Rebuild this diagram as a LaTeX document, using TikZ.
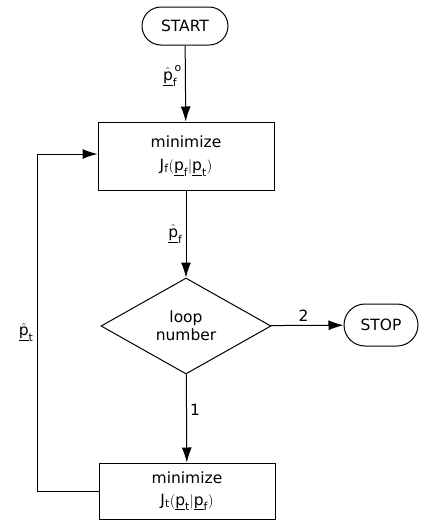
\documentclass[tikz,border=0pt]{standalone}
\usepackage{fontspec}
\setmainfont{DejaVu Sans}
\usetikzlibrary{shapes.geometric,arrows.meta}
\newcommand{\uvec}[1]{\underline{\mathrm{#1}}}
\newcommand{\hvec}[1]{\hat{\underline{\mathrm{#1}}}}
\begin{document}
\begin{tikzpicture}[x=1pt,y=-1pt,
  every node/.style={font=\fontsize{15.5}{18}\selectfont},
  term/.style={draw,line width=1pt,rounded corners=19pt,minimum width=86pt,minimum height=38pt,inner sep=0pt},
  procbox/.style={draw,line width=1pt,minimum width=176pt,inner sep=0pt,align=center},
  decision/.style={draw,line width=1pt,diamond,minimum width=170pt,minimum height=96pt,inner sep=0pt,align=center},
  flow/.style={line width=1pt,-{Latex[length=15pt,width=10pt]}},
  lbl/.style={inner sep=3pt}]
\useasboundingbox (0,0) rectangle (426,531);
\node[term] (start) at (185,26) {START};
\node[procbox,minimum height=68pt] (box1) at (186,156) {minimize\\[5pt]$\mathrm{J}_{\mathrm{f}}(\uvec{p}_{\mathrm{f}}|\uvec{p}_{\mathrm{t}})$};
\node[decision] (dia) at (186,326) {loop\\number};
\node[term,minimum width=74pt,minimum height=42pt,rounded corners=21pt] (stop) at (381,325) {STOP};
\node[procbox,minimum height=56pt] (box2) at (187,491) {minimize\\[4pt]$\mathrm{J}_{\mathrm{t}}(\uvec{p}_{\mathrm{t}}|\uvec{p}_{\mathrm{f}})$};
\coordinate (c1) at (37,491);
\coordinate (c2) at (37,154);
\draw[flow] (start) -- node[lbl,left,pos=0.4] {$\hvec{p}^{\,\mathrm{o}}_{\mathrm{f}}$} (box1);
\draw[flow] (box1) -- node[lbl,left,pos=0.5] {$\hvec{p}_{\mathrm{f}}$} (dia);
\draw[flow] (dia) -- node[lbl,above,pos=0.45] {2} (stop);
\draw[flow] (dia) -- node[lbl,right,pos=0.4] {1} (box2);
\draw[flow] (box2.west) -- (c1) -- node[lbl,left,pos=0.47] {$\hvec{p}_{\mathrm{t}}$} (c2) -- (box1.west |- c2);
\end{tikzpicture}
\end{document}
